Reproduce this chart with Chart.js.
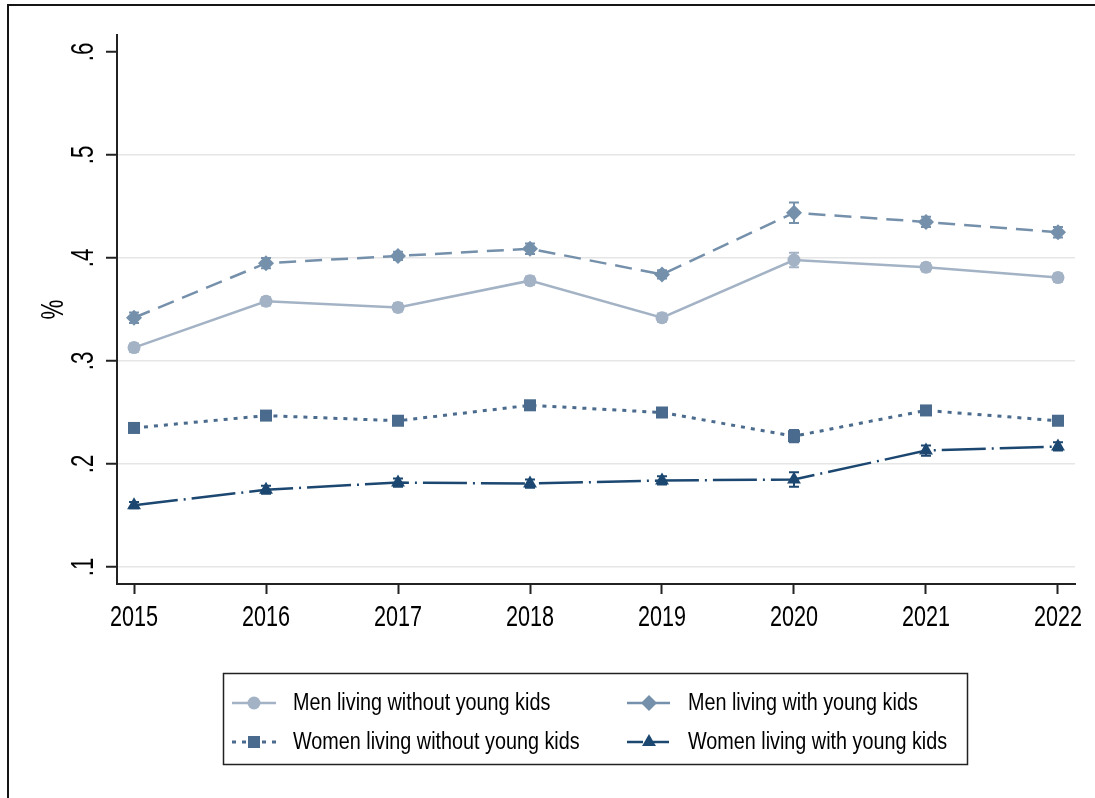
<!DOCTYPE html>
<html>
<head>
<meta charset="utf-8">
<title>Share by year</title>
<script src="https://cdn.jsdelivr.net/npm/chart.js@4.4.1/dist/chart.umd.min.js"></script>
<style>
  html, body { margin: 0; padding: 0; background: #ffffff; }
  #chart { display: block; }
</style>
</head>
<body>
<canvas id="chart" width="1095" height="798"></canvas>
<script>
// ---- data ----
const years = [2015, 2016, 2017, 2018, 2019, 2020, 2021, 2022];
const yTicks = [0.1, 0.2, 0.3, 0.4, 0.5, 0.6];

const seriesNames = [
  'Men living without young kids',
  'Men living with young kids',
  'Women living without young kids',
  'Women living with young kids'
];

const menWithoutKids   = [0.313, 0.358, 0.352, 0.378, 0.342, 0.398, 0.391, 0.381];
const menWithKids      = [0.342, 0.395, 0.402, 0.409, 0.384, 0.444, 0.435, 0.425];
const womenWithoutKids = [0.235, 0.247, 0.242, 0.257, 0.250, 0.227, 0.252, 0.242];
const womenWithKids    = [0.160, 0.175, 0.182, 0.181, 0.184, 0.185, 0.213, 0.217];

// half-width of each confidence interval
const menWithoutKidsCI   = [0.004, 0.004, 0.004, 0.004, 0.004, 0.007, 0.004, 0.004];
const menWithKidsCI      = [0.005, 0.005, 0.004, 0.005, 0.004, 0.010, 0.005, 0.005];
const womenWithoutKidsCI = [0.004, 0.004, 0.004, 0.004, 0.004, 0.006, 0.004, 0.004];
const womenWithKidsCI    = [0.003, 0.004, 0.004, 0.004, 0.004, 0.007, 0.005, 0.004];

// ---- condensed lettering: every string is narrowed along its baseline ----
const FONT = '"Liberation Sans", Arial, Helvetica, sans-serif';
const nativeFillText = CanvasRenderingContext2D.prototype.fillText;
const nativeMeasureText = CanvasRenderingContext2D.prototype.measureText;
let squeeze = 0.72;
CanvasRenderingContext2D.prototype.fillText = function (text, x, y, maxWidth) {
  const w = nativeMeasureText.call(this, String(text)).width * squeeze;
  const limit = maxWidth !== undefined ? Math.min(maxWidth, w) : w;
  nativeFillText.call(this, text, x, y, Math.max(limit, 0.01));
};
CanvasRenderingContext2D.prototype.measureText = function (text) {
  const m = nativeMeasureText.call(this, text);
  return {
    width: m.width * squeeze,
    actualBoundingBoxLeft: m.actualBoundingBoxLeft * squeeze,
    actualBoundingBoxRight: m.actualBoundingBoxRight * squeeze,
    actualBoundingBoxAscent: m.actualBoundingBoxAscent,
    actualBoundingBoxDescent: m.actualBoundingBoxDescent,
    fontBoundingBoxAscent: m.fontBoundingBoxAscent,
    fontBoundingBoxDescent: m.fontBoundingBoxDescent
  };
};

// ---- series styles ----
const styles = [
  { color: '#a3b3c5', dash: [],            width: 2.5, point: 'circle',   radius: 6.5 },
  { color: '#7590ab', dash: [17, 9],       width: 2.5, point: 'rectRot',  radius: 8 },
  { color: '#4a6b8d', dash: [4, 6],        width: 3,   point: 'rect',     radius: 8.5 },
  { color: '#1b4770', dash: [44, 6, 2, 6], width: 2.5, point: 'triangle', radius: 8 }
];
const seriesValues = [menWithoutKids, menWithKids, womenWithoutKids, womenWithKids];
const seriesCI = [menWithoutKidsCI, menWithKidsCI, womenWithoutKidsCI, womenWithKidsCI];

const datasets = seriesValues.map((vals, i) => ({
  label: seriesNames[i],
  data: years.map((yr, j) => ({ x: yr, y: vals[j] })),
  borderColor: styles[i].color,
  backgroundColor: styles[i].color,
  borderWidth: styles[i].width,
  borderDash: styles[i].dash,
  pointStyle: styles[i].point,
  pointRadius: styles[i].radius,
  pointHoverRadius: styles[i].radius,
  pointBackgroundColor: styles[i].color,
  pointBorderColor: styles[i].color,
  pointBorderWidth: 0,
  tension: 0,
  fill: false
}));

// ---- plugins ----
// outer frame of the graph region
const framePlugin = {
  id: 'frame',
  beforeDraw(chart) {
    const ctx = chart.ctx;
    ctx.save();
    ctx.fillStyle = '#ffffff';
    ctx.fillRect(0, 0, chart.width, chart.height);
    ctx.fillStyle = '#151515';
    ctx.fillRect(7, 4, chart.width - 7, 2);
    ctx.fillRect(7, 4, 2, chart.height - 4);
    ctx.restore();
  }
};

// vertical confidence-interval caps at every point
const errorBarPlugin = {
  id: 'errorBars',
  afterDatasetsDraw(chart) {
    const ctx = chart.ctx;
    const xs = chart.scales.x, ys = chart.scales.y;
    ctx.save();
    seriesValues.forEach((vals, i) => {
      ctx.strokeStyle = styles[i].color;
      ctx.lineWidth = 2;
      ctx.setLineDash([]);
      vals.forEach((v, j) => {
        const px = xs.getPixelForValue(years[j]);
        const top = ys.getPixelForValue(v + seriesCI[i][j]);
        const bot = ys.getPixelForValue(v - seriesCI[i][j]);
        ctx.beginPath();
        ctx.moveTo(px, top); ctx.lineTo(px, bot);
        ctx.moveTo(px - 5, top); ctx.lineTo(px + 5, top);
        ctx.moveTo(px - 5, bot); ctx.lineTo(px + 5, bot);
        ctx.stroke();
      });
    });
    ctx.restore();
  }
};

// boxed two-column key under the plot
const keyPlugin = {
  id: 'key',
  afterDraw(chart) {
    const ctx = chart.ctx;
    const box = { x: 223, y: 673, w: 744, h: 91 };
    const cols = [232, 627];
    const rows = [703, 742];
    ctx.save();
    ctx.strokeStyle = '#222222';
    ctx.lineWidth = 1.5;
    ctx.setLineDash([]);
    ctx.strokeRect(box.x + 0.5, box.y + 0.5, box.w, box.h);
    squeeze = 0.86;
    ctx.font = '23px ' + FONT;
    ctx.textAlign = 'left';
    ctx.textBaseline = 'middle';
    seriesNames.forEach((name, i) => {
      const cx = cols[i % 2];
      const cy = rows[Math.floor(i / 2)];
      const st = styles[i];
      ctx.strokeStyle = st.color;
      ctx.fillStyle = st.color;
      ctx.lineWidth = st.width;
      ctx.setLineDash(st.dash.length ? (i === 3 ? [16, 4, 2, 4] : st.dash) : []);
      ctx.beginPath();
      ctx.moveTo(cx, cy);
      ctx.lineTo(cx + 44, cy);
      ctx.stroke();
      ctx.setLineDash([]);
      Chart.helpers.drawPoint(ctx, { pointStyle: st.point, radius: st.radius, rotation: 0, borderWidth: 0 }, cx + 22, cy);
      ctx.fillStyle = '#000000';
      ctx.fillText(name, cx + 61, cy + 1);
    });
    squeeze = 0.72;
    ctx.restore();
  }
};

// ---- chart ----
new Chart(document.getElementById('chart'), {
  type: 'line',
  data: { datasets },
  plugins: [framePlugin, errorBarPlugin, keyPlugin],
  options: {
    responsive: false,
    animation: false,
    devicePixelRatio: 1,
    layout: { padding: { left: 10, top: 35, right: 20, bottom: 154 } },
    plugins: {
      legend: { display: false },
      tooltip: { enabled: false }
    },
    scales: {
      x: {
        type: 'linear',
        min: 2014.871,
        max: 2022.129,
        afterBuildTicks: s => { s.ticks = years.map(v => ({ value: v })); },
        afterFit: s => { s.height = 60; },
        ticks: {
          callback: v => String(v),
          font: { family: FONT, size: 30 },
          color: '#000000',
          padding: 6,
          autoSkip: false,
          maxRotation: 0
        },
        grid: { drawOnChartArea: false, tickLength: 10, tickColor: '#222222', tickWidth: 2 },
        border: { display: true, color: '#222222', width: 2 }
      },
      y: {
        min: 0.0835,
        max: 0.6165,
        afterBuildTicks: s => { s.ticks = yTicks.map(v => ({ value: v })); },
        afterFit: s => { s.width = 107; },
        ticks: {
          callback: v => Number(v).toFixed(1).replace(/^0/, ''),
          font: { family: FONT, size: 31 },
          color: '#000000',
          minRotation: 90,
          maxRotation: 90,
          crossAlign: 'center',
          padding: 12,
          autoSkip: false
        },
        grid: {
          color: c => (c.tick && c.tick.value > 0.55 ? 'rgba(0,0,0,0)' : '#e6e6e6'),
          lineWidth: 1.5,
          tickLength: 11,
          tickColor: '#222222',
          tickWidth: 2
        },
        border: { display: true, color: '#222222', width: 2 },
        title: {
          display: true,
          text: '%',
          color: '#000000',
          font: { family: FONT, size: 31 },
          padding: { top: 26, bottom: 0 }
        }
      }
    }
  }
});
</script>
</body>
</html>
